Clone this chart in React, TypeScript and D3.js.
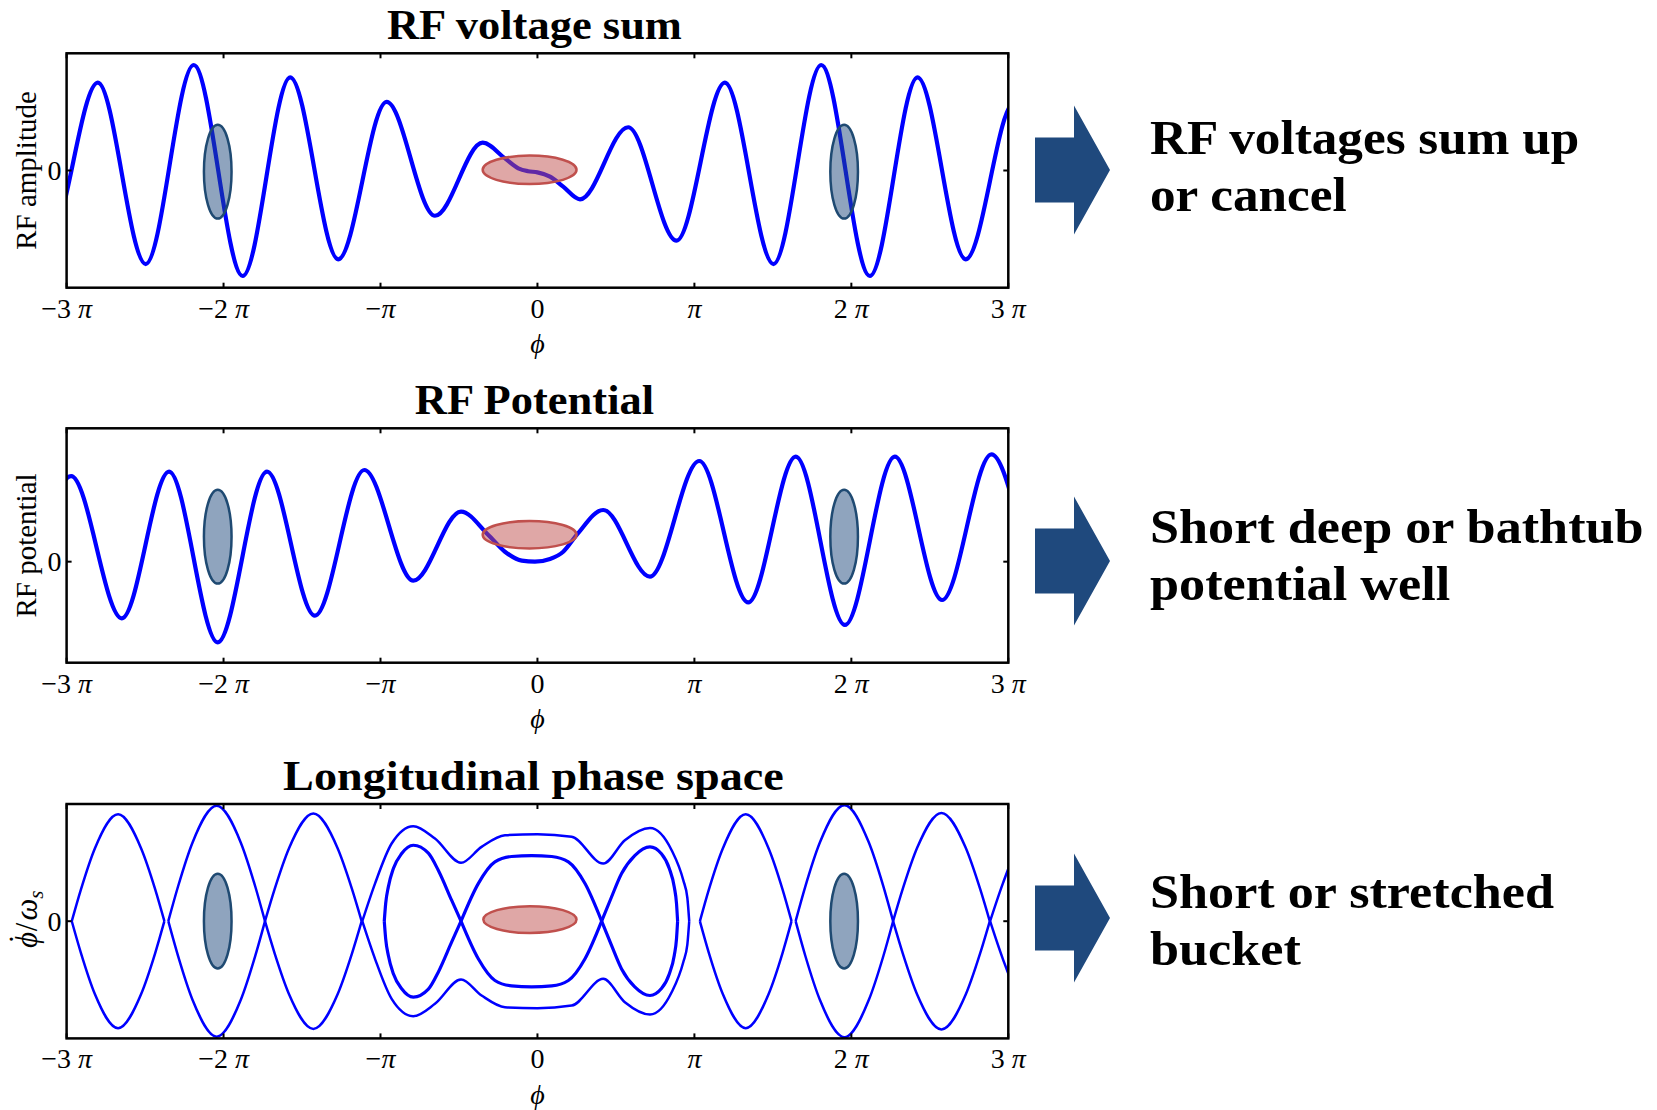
import React from "react";
import * as d3 from "d3";

// ---------------- data (phase φ in units of π) ----------------
const piTicks = [-3, -2, -1, 0, 1, 2, 3];
const piTickLabels = ["−3 π", "−2 π", "−π", "0", "π", "2 π", "3 π"];

const panelTitles = ["RF voltage sum", "RF Potential", "Longitudinal phase space"];
const panelYLabels = ["RF amplitude", "RF potential", "phase"];
const sideTexts = [
  ["RF voltages sum up", "or cancel"],
  ["Short deep or bathtub", "potential well"],
  ["Short or stretched", "bucket"],
];

// RF voltage sum: extrema and plateau (points beyond ±3π are clipped)
const voltagePhi = [-3.422, -3.114, -2.801, -2.496, -2.19, -1.878, -1.575, -1.269, -0.961, -0.653, -0.349, -0.207, -0.122, -0.06, 0.0, 0.08, 0.164, 0.271, 0.578, 0.886, 1.194, 1.504, 1.808, 2.118, 2.422, 2.729, 3.039, 3.347];
const voltageValue = [0.369, -0.599, 0.749, -0.798, 0.9, -0.9, 0.795, -0.758, 0.585, -0.386, 0.237, 0.104, 0.019, -0.006, -0.016, -0.053, -0.138, -0.246, 0.369, -0.599, 0.749, -0.798, 0.9, -0.9, 0.795, -0.758, 0.585, -0.386];

// RF potential
const potentialPhi = [-3.581, -3.283, -2.971, -2.648, -2.347, -2.037, -1.723, -1.418, -1.103, -0.791, -0.487, -0.313, -0.207, -0.1, -0.016, 0.08, 0.164, 0.25, 0.419, 0.717, 1.031, 1.343, 1.646, 1.959, 2.277, 2.578, 2.893, 3.2, 3.5];
const potentialValue = [0.441, -0.128, 0.73, -0.483, 0.768, -0.688, 0.768, -0.461, 0.782, -0.162, 0.427, 0.228, 0.085, 0.009, 0.0, 0.023, 0.085, 0.228, 0.441, -0.128, 0.859, -0.347, 0.896, -0.54, 0.896, -0.327, 0.916, -0.05, 0.8];

// Longitudinal phase space: upper halves of separatrices [φ/π, φ'/ωs] (mirrored below)
const lensA = [[-2.967, 0], [-2.908, 0.274], [-2.82, 0.621], [-2.672, 0.913], [-2.525, 0.621], [-2.436, 0.274], [-2.377, 0]];
const lensB = [[-2.352, 0], [-2.29, 0.296], [-2.198, 0.67], [-2.044, 0.985], [-1.89, 0.67], [-1.798, 0.296], [-1.736, 0]];
const lensC = [[-1.736, 0], [-1.674, 0.276], [-1.582, 0.625], [-1.428, 0.919], [-1.274, 0.625], [-1.182, 0.276], [-1.12, 0]];
const lensE = [[1.035, 0], [1.093, 0.274], [1.181, 0.621], [1.327, 0.913], [1.473, 0.621], [1.561, 0.274], [1.619, 0]];
const lensF = [[1.645, 0], [1.707, 0.297], [1.8, 0.673], [1.956, 0.99], [2.111, 0.673], [2.204, 0.297], [2.266, 0]];
const lensG = [[2.266, 0], [2.328, 0.277], [2.42, 0.628], [2.574, 0.924], [2.728, 0.628], [2.82, 0.277], [2.882, 0]];
const bucketLenses = [lensA, lensB, lensC, lensE, lensF, lensG];

const outerSeparatrix = [[-1.116, 0], [-1.035, 0.321], [-0.929, 0.663], [-0.791, 0.811], [-0.653, 0.705], [-0.487, 0.498], [-0.356, 0.634], [-0.207, 0.734], [0.0, 0.742], [0.218, 0.72], [0.419, 0.492], [0.557, 0.691], [0.717, 0.796], [0.855, 0.606], [0.929, 0.35], [0.955, 0.2], [0.967, 0]];
const outerRepeatShift = [0, 4];

const innerLeft = [[-0.976, 0], [-0.967, 0.151], [-0.95, 0.293], [-0.918, 0.449], [-0.865, 0.577], [-0.791, 0.648], [-0.695, 0.58], [-0.632, 0.435], [-0.547, 0.179], [-0.487, 0]];
const innerCentre = [[-0.487, 0], [-0.377, 0.321], [-0.271, 0.506], [-0.165, 0.552], [-0.037, 0.56], [0.091, 0.552], [0.197, 0.506], [0.303, 0.321], [0.409, 0]];
const innerRight = [[0.409, 0], [0.47, 0.2], [0.536, 0.407], [0.62, 0.56], [0.717, 0.634], [0.79, 0.575], [0.84, 0.45], [0.872, 0.29], [0.886, 0.151], [0.893, 0]];
const innerLobes = [innerLeft, innerCentre, innerRight];

// bunches: [centre φ/π, centre value, half length φ/π, half height, kind]
const voltageBunches = [[-2.037, -0.01, 0.088, 0.4, "blue"], [1.954, -0.01, 0.088, 0.4, "blue"], [-0.05, 0.006, 0.299, 0.121, "red"]];
const potentialBunches = [[-2.037, 0.213, 0.088, 0.4, "blue"], [1.954, 0.213, 0.088, 0.4, "blue"], [-0.05, 0.23, 0.299, 0.117, "red"]];
const phaseBunches = [[-2.037, 0, 0.088, 0.404, "blue"], [1.954, 0, 0.088, 0.404, "blue"], [-0.048, 0.014, 0.297, 0.114, "red"]];

// ---------------- layout / style ----------------
const W = 1657;
const H = 1110;
const X0 = 66.6;
const X1 = 1008.3;
const PH = 234.4;
const panelTops = [53.3, 428.3, 804];
const yDomains: [number, number][] = [[-1, 1], [-0.862, 1.138], [-1, 1]];
const arrowCentres = [170, 561, 918];
const textBaselines = [[154, 211], [543, 600], [908, 965]];
const titleScales = [1.035, 1.035, 1.075];
const titleShift = [-3, -3, -4];
const sideScales = [1.035, 1.055, 1.055];
const serif = "'Liberation Serif', 'Times New Roman', Times, serif";
const BLUE = "#0000ff";
const bunchStyle: Record<string, { fill: string; stroke: string }> = {
  blue: { fill: "rgba(31,73,125,0.5)", stroke: "#1f4a72" },
  red: { fill: "rgba(192,80,77,0.5)", stroke: "#c0504d" },
};

const x = d3.scaleLinear().domain([-3, 3]).range([X0, X1]);

function PiLabel({ label, px, py }: { label: string; px: number; py: number }) {
  const parts = label.split("π");
  return (
    <text x={px} y={py} textAnchor="middle" fontFamily={serif} fontSize={28}>
      {parts[0]}
      {parts.length > 1 ? <tspan fontStyle="italic">π</tspan> : null}
    </text>
  );
}

function Panel({ idx }: { idx: number }) {
  const top = panelTops[idx];
  const bottom = top + PH;
  const y = d3.scaleLinear().domain(yDomains[idx]).range([bottom, top]);
  const line = d3
    .line<number[]>()
    .x((d) => x(d[0]))
    .y((d) => y(d[1]))
    .curve(d3.curveMonotoneX);
  const clipId = `clip${idx}`;
  const y0 = y(0);

  let curves: React.ReactNode = null;
  let bunches = voltageBunches;
  if (idx === 0) {
    const pts = d3.zip(voltagePhi, voltageValue);
    curves = <path d={line(pts) || ""} fill="none" stroke={BLUE} strokeWidth={4.2} />;
  } else if (idx === 1) {
    bunches = potentialBunches;
    const pts = d3.zip(potentialPhi, potentialValue);
    curves = <path d={line(pts) || ""} fill="none" stroke={BLUE} strokeWidth={4.2} />;
  } else {
    bunches = phaseBunches;
    const halves = (pts: number[][], shift: number, w: number, key: string) => {
      const up = pts.map((p) => [p[0] + shift, p[1]]);
      const dn = pts.map((p) => [p[0] + shift, -p[1]]);
      return (
        <g key={key}>
          <path d={line(up) || ""} fill="none" stroke={BLUE} strokeWidth={w} />
          <path d={line(dn) || ""} fill="none" stroke={BLUE} strokeWidth={w} />
        </g>
      );
    };
    curves = (
      <g>
        {bucketLenses.map((l, i) => halves(l, 0, 2.5, `lens${i}`))}
        {outerRepeatShift.map((s, i) => halves(outerSeparatrix, s, 2.5, `outer${i}`))}
        {innerLobes.map((l, i) => halves(l, 0, 3.2, `inner${i}`))}
      </g>
    );
  }

  const titleY = top - 14.5;
  const cy = (top + bottom) / 2;
  return (
    <g>
      <defs>
        <clipPath id={clipId}>
          <rect x={X0} y={top} width={X1 - X0} height={PH} />
        </clipPath>
      </defs>
      <g clipPath={`url(#${clipId})`}>{curves}</g>
      {bunches.map((b, i) => {
        const st = bunchStyle[b[4] as string];
        const cxp = x(b[0] as number);
        const cyp = y(b[1] as number);
        const rx = x((b[0] as number) + (b[2] as number)) - cxp;
        const ry = cyp - y((b[1] as number) + (b[3] as number));
        return <ellipse key={i} cx={cxp} cy={cyp} rx={rx} ry={ry} fill={st.fill} stroke={st.stroke} strokeWidth={2.5} />;
      })}
      <rect x={X0} y={top} width={X1 - X0} height={PH} fill="none" stroke="#000" strokeWidth={2.5} />
      {piTicks.map((t) => (
        <g key={t}>
          <line x1={x(t)} x2={x(t)} y1={bottom} y2={bottom - 5} stroke="#000" strokeWidth={2} />
          <line x1={x(t)} x2={x(t)} y1={top} y2={top + 5} stroke="#000" strokeWidth={2} />
        </g>
      ))}
      <line x1={X0} x2={X0 + 5} y1={y0} y2={y0} stroke="#000" strokeWidth={2} />
      <line x1={X1} x2={X1 - 5} y1={y0} y2={y0} stroke="#000" strokeWidth={2} />
      {piTicks.map((t, i) => (
        <PiLabel key={t} label={piTickLabels[i]} px={x(t)} py={bottom + 30} />
      ))}
      <text x={X0 - 5} y={y0 + 9.5} textAnchor="end" fontFamily={serif} fontSize={28}>0</text>
      <text x={x(0)} y={bottom + 65.5} textAnchor="middle" fontFamily={serif} fontSize={28} fontStyle="italic">ϕ</text>
      {idx < 2 ? (
        <text transform={`translate(36,${cy}) rotate(-90)`} textAnchor="middle" fontFamily={serif} fontSize={29}>
          {panelYLabels[idx]}
        </text>
      ) : (
        <text transform={`translate(37,${cy - 2}) rotate(-90)`} textAnchor="middle" fontFamily={serif} fontSize={31}>
          <tspan fontStyle="italic">ϕ</tspan>
          <tspan dx={-12.3} dy={-6} fontStyle="normal">˙</tspan>
          <tspan dx={2.7} dy={6}>/</tspan>
          <tspan dx={2} fontStyle="italic">ω</tspan>
          <tspan fontStyle="italic" fontSize={21} dy={6}>s</tspan>
        </text>
      )}
      <text
        transform={`translate(${(X0 + X1) / 2 + titleShift[idx]},${titleY}) scale(${titleScales[idx]},1)`}
        textAnchor="middle"
        fontFamily={serif}
        fontWeight="bold"
        fontSize={43}
      >
        {panelTitles[idx]}
      </text>
    </g>
  );
}

function SideNote({ idx }: { idx: number }) {
  const c = arrowCentres[idx];
  const pts = [
    [1035, c - 32.4],
    [1074, c - 32.4],
    [1074, c - 64.5],
    [1110, c],
    [1074, c + 64.5],
    [1074, c + 32.4],
    [1035, c + 32.4],
  ];
  return (
    <g>
      <polygon points={pts.map((p) => p.join(",")).join(" ")} fill="#1f497d" />
      {sideTexts[idx].map((s, i) => (
        <text
          key={i}
          transform={`translate(1150,${textBaselines[idx][i]}) scale(${sideScales[idx]},1)`}
          fontFamily={serif}
          fontWeight="bold"
          fontSize={49.5}
        >
          {s}
        </text>
      ))}
    </g>
  );
}

export default function App() {
  return (
    <div style={{ position: "absolute", left: 0, top: 0, width: W, height: H, background: "#fff" }}>
      <svg width={W} height={H} viewBox={`0 0 ${W} ${H}`} style={{ display: "block" }}>
        <rect x={0} y={0} width={W} height={H} fill="#fff" />
        {[0, 1, 2].map((i) => (
          <Panel key={i} idx={i} />
        ))}
        {[0, 1, 2].map((i) => (
          <SideNote key={i} idx={i} />
        ))}
      </svg>
    </div>
  );
}
